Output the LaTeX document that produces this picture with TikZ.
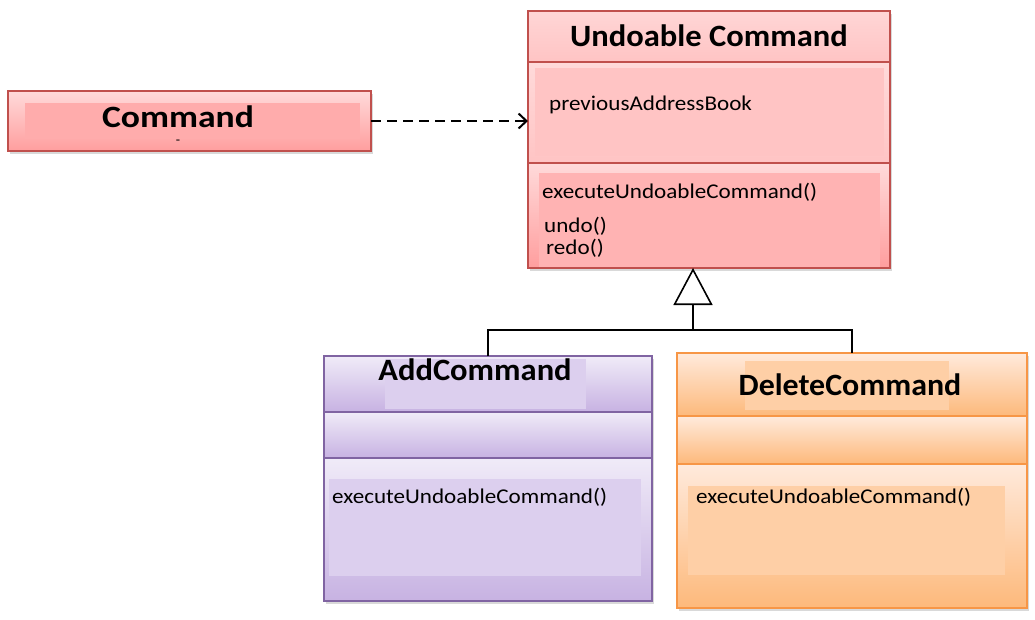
\documentclass[tikz,border=0pt]{standalone}
\usepackage{fontspec}
\setmainfont{Carlito}
\usetikzlibrary{arrows.meta,shadows,fit}
\definecolor{redB}{HTML}{C0504D}
\definecolor{redTop}{HTML}{FFDADA}
\definecolor{redBot}{HTML}{FF9E9E}
\definecolor{redPan}{HTML}{FFACAC}
\definecolor{redPanA}{HTML}{FFC4C4}
\definecolor{redPanM}{HTML}{FFB3B3}
\definecolor{purB}{HTML}{8064A2}
\definecolor{purTop}{HTML}{F0EBF8}
\definecolor{purBot}{HTML}{C7B2E2}
\definecolor{purPan}{HTML}{DCCFEE}
\definecolor{orB}{HTML}{F79646}
\definecolor{orTop}{HTML}{FFEADC}
\definecolor{orBot}{HTML}{FDB97B}
\definecolor{orPan}{HTML}{FECFA6}
\newcommand\sqx[2]{\scalebox{#1}[1]{#2}}
\tikzset{
  sect/.style={fit={#1}, inner sep=0pt, outer sep=0pt, line width=1.5pt,
    drop shadow={opacity=0.3, shadow xshift=1.5pt, shadow yshift=-2.5pt}},
  redsect/.style={sect={#1}, draw=redB, top color=redTop, bottom color=redBot},
  pursect/.style={sect={#1}, draw=purB, top color=purTop, bottom color=purBot},
  orsect/.style={sect={#1}, draw=orB, top color=orTop, bottom color=orBot},
  panel/.style={fit={#1}, inner sep=0pt, outer sep=0pt, draw=none},
  ttl/.style={anchor=base, inner sep=0pt, font=\fontsize{31}{31}\selectfont\bfseries},
  lbl/.style={anchor=base west, inner sep=0pt, font=\fontsize{21}{21}\selectfont},
  link/.style={line width=1.6pt, black},
  depend/.style={line width=2.5pt, dash pattern=on 10pt off 6pt, -{Straight Barb[length=8pt,width=15pt,line width=2pt]}},
  inherit/.style={link, -{Triangle[open, length=37pt, width=39pt, line width=1.6pt, fill=white]}}
}
\begin{document}
\begin{tikzpicture}[x=1pt,y=-1pt]
\useasboundingbox (0,0) rectangle (1035,619);
% Command
\node (cmd) [redsect={(8,91)(371,151)}] {};
\node (cmdP) [panel={(25,103)(360,139)}, fill=redPan] {};
\node (cmdT) [ttl] at (178,127) {\sqx{1.15}{Command}};
\node (cmdD) [anchor=center, inner sep=0pt, font=\fontsize{14}{14}\selectfont] at (178,142) {-};
% Undoable Command
\node (undoT) [redsect={(528,11)(890,62)}, top color=redPanA!70!white, bottom color=redPanA] {};
\node (undoA) [redsect={(528,62)(890,163)}, top color=redTop, bottom color=redPanA] {};
\node (undoM) [redsect={(528,163)(890,268)}] {};
\node (undoPA) [panel={(535,68)(884,156)}, fill=redPanA] {};
\node (undoPM) [panel={(539,173)(880,267)}, fill=redPanM] {};
\node (undoTx) [ttl] at (709,46) {\sqx{1.05}{Undoable Command}};
\node (attr1) [lbl] at (549,110) {\sqx{1.1}{previousAddressBook}};
\node (m1) [lbl] at (542,198) {\sqx{1.1}{executeUndoableCommand()}};
\node (m2) [lbl] at (544,232) {\sqx{1.1}{undo()}};
\node (m3) [lbl] at (546,254) {\sqx{1.1}{redo()}};
% AddCommand
\node (addT) [pursect={(324,356)(652,412)}] {};
\node (addA) [pursect={(324,412)(652,458)}] {};
\node (addM) [pursect={(324,458)(652,601)}] {};
\node (addPT) [panel={(385,359)(586,409)}, fill=purPan] {};
\node (addPM) [panel={(329,479)(641,576)}, fill=purPan] {};
\node (addTx) [ttl] at (475,380) {\sqx{1.05}{AddCommand}};
\node (addm1) [lbl] at (332,503) {\sqx{1.1}{executeUndoableCommand()}};
% DeleteCommand
\node (delT) [orsect={(677,353)(1027,416)}] {};
\node (delA) [orsect={(677,416)(1027,464)}] {};
\node (delM) [orsect={(677,464)(1027,608)}] {};
\node (delPT) [panel={(745,361)(949,410)}, fill=orPan] {};
\node (delPM) [panel={(688,486)(1005,575)}, fill=orPan] {};
\node (delTx) [ttl] at (850,395) {\sqx{1.03}{DeleteCommand}};
\node (delm1) [lbl] at (696,503) {\sqx{1.1}{executeUndoableCommand()}};
% connectors
\draw[depend] (cmd.east) -- (cmd.east -| undoA.west);
\coordinate (tip) at (693,268);
\coordinate (jn) at (693,330);
\draw[link] (addT.north) |- (jn) -| (delT.north);
\draw[inherit] (jn) -- (tip);
\end{tikzpicture}
\end{document}
